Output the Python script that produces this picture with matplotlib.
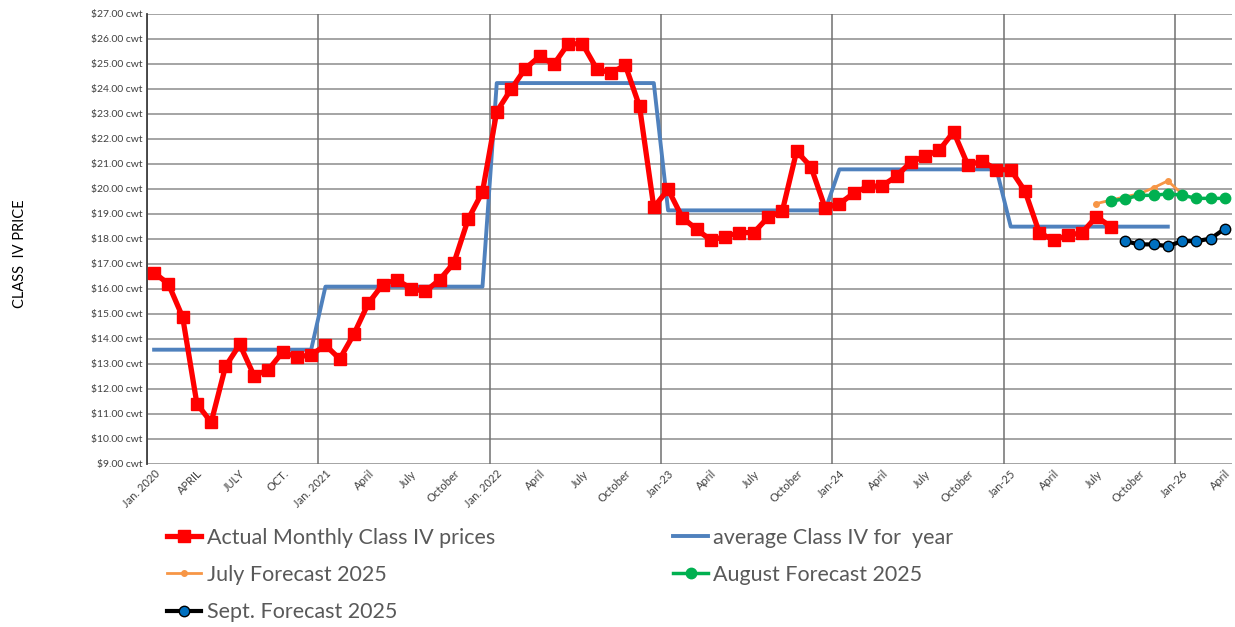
import numpy as np
import matplotlib.pyplot as plt
from matplotlib.lines import Line2D

plt.rcParams['font.family'] = ['Lato', 'DejaVu Sans']

# months Jan 2020 .. Apr 2026 (76 categories)
tick_labels = ["Jan. 2020", "APRIL", "JULY", "OCT.",
               "Jan. 2021", "April", "July", "October",
               "Jan. 2022", "April", "July", "October",
               "Jan-23", "April", "July", "October",
               "Jan-24", "April", "July", "October",
               "Jan-25", "April", "July", "October",
               "Jan-26", "April"]

# actual monthly class IV, Jan 2020 .. Aug 2025
actual = [16.65, 16.20, 14.87, 11.40, 10.67, 12.90, 13.78, 12.53, 12.77, 13.47, 13.28, 13.36,
          13.75, 13.20, 14.20, 15.42, 16.17, 16.37, 16.01, 15.90, 16.37, 17.04, 18.79, 19.88,
          23.09, 23.98, 24.81, 25.30, 24.98, 25.80, 25.80, 24.80, 24.63, 24.95, 23.30, 19.26,
          19.98, 18.85, 18.38, 17.95, 18.09, 18.25, 18.25, 18.86, 19.11, 21.50, 20.89, 19.24,
          19.40, 19.83, 20.10, 20.12, 20.51, 21.07, 21.31, 21.55, 22.28, 20.95, 21.11, 20.77,
          20.76, 19.91, 18.25, 17.95, 18.14, 18.25, 18.89, 18.49]

# yearly averages 2020 .. 2025
year_avg = [13.57, 16.09, 24.23, 19.14, 20.78, 18.49]

july_fc = [19.41, 19.55, 19.68, 19.80, 20.04, 20.32, 19.80]       # Jul 2025 .. Jan 2026
aug_fc = [19.51, 19.60, 19.74, 19.74, 19.80, 19.75, 19.62, 19.62, 19.62]  # Aug 2025 .. Apr 2026
sept_fc = [17.91, 17.78, 17.78, 17.71, 17.91, 17.91, 18.01, 18.41]  # Sep 2025 .. Apr 2026

n_months = 76
avg_monthly = np.repeat(year_avg, 12)

fig = plt.figure(figsize=(12.35, 6.27), dpi=100)
ax = fig.add_axes([0.119, 0.260, 0.8786, 0.718])

ax.plot(np.arange(len(avg_monthly)), avg_monthly, color='#4F81BD', lw=2.8, zorder=3)
ax.plot(np.arange(len(actual)), actual, color='#FF0000', lw=3.8, marker='s', ms=8.5, zorder=4)
ax.plot(np.arange(66, 66 + len(july_fc)), july_fc, color='#F79646', lw=2, marker='o', ms=4, zorder=4)
ax.plot(np.arange(67, 67 + len(aug_fc)), aug_fc, color='#00B050', lw=2.5, marker='o', ms=7.5, zorder=5)
ax.plot(np.arange(68, 68 + len(sept_fc)), sept_fc, color='black', lw=3, marker='o', ms=7.5,
        markerfacecolor='#0070C0', markeredgecolor='black', markeredgewidth=1, zorder=5)

ax.set_xlim(-0.5, n_months - 0.5)
ax.set_ylim(9, 27)
ax.set_yticks(np.arange(9, 28, 1))
ax.set_yticklabels([f"${v:.2f} cwt" for v in range(9, 28)], fontsize=7.5, color='#404040')
ax.set_xticks(np.arange(0, n_months, 3))
ax.set_xticklabels(tick_labels, rotation=45, ha='right', rotation_mode='anchor',
                   fontsize=8, color='#404040')
ax.tick_params(length=0, pad=3)

for y in range(9, 28):
    ax.axhline(y, color='#8C8C8C', lw=1.1, zorder=1)
for x in np.arange(-0.5, n_months, 12):
    ax.axvline(x, color='#707070', lw=1.1, zorder=1)

for s in ['top', 'right', 'bottom']:
    ax.spines[s].set_visible(False)
ax.spines['left'].set_color('#404040')
ax.spines['left'].set_linewidth(1.3)

fig.text(0.016, 0.595, "CLASS  IV PRICE", rotation=90, va='center', ha='center',
         fontsize=10.5, color='black')

handles = [
    Line2D([], [], color='#FF0000', lw=3.8, marker='s', ms=8.5),
    Line2D([], [], color='#F79646', lw=2, marker='o', ms=4),
    Line2D([], [], color='black', lw=3, marker='o', ms=7.5, markerfacecolor='#0070C0'),
    Line2D([], [], color='#4F81BD', lw=2.8),
    Line2D([], [], color='#00B050', lw=2.5, marker='o', ms=7.5),
]
labels = ["Actual Monthly Class IV prices", "July Forecast 2025", "Sept. Forecast 2025",
          "average Class IV for  year", "August Forecast 2025"]
fig.legend(handles, labels, loc='upper left', bbox_to_anchor=(0.128, 0.172), ncol=2,
           frameon=False, fontsize=15.5, handlelength=1.6, handletextpad=0.25,
           columnspacing=8.3, labelspacing=0.8, labelcolor='#595959',
           borderaxespad=0)

fig.savefig("out.png", dpi=100)
